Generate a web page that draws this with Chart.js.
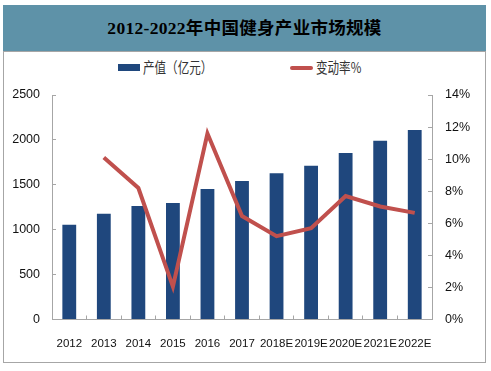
<!DOCTYPE html>
<html><head><meta charset="utf-8">
<script src="https://cdn.jsdelivr.net/npm/chart.js@4.4.0/dist/chart.umd.min.js"></script>
<style>
html,body{margin:0;padding:0;background:#fff;width:491px;height:371px;overflow:hidden;}
#frame{position:absolute;left:3px;top:5px;width:481px;height:357px;border:1px solid #A6A6A6;border-top:none;}
#title{position:absolute;left:3px;top:5px;width:483px;height:46px;background:#5E92A8;border-bottom:1px solid #A6A6A6;
 font-family:"Liberation Serif","Noto Sans CJK SC",serif;font-weight:bold;font-size:17.5px;letter-spacing:0.3px;color:#000;
 text-align:center;line-height:46px;}
.lg{position:absolute;font-family:"Noto Sans CJK SC",sans-serif;font-size:15px;color:#333;transform-origin:0 50%;transform:scaleX(0.77);white-space:nowrap;line-height:16px;}
#box1{position:absolute;left:118px;top:64px;width:22px;height:7px;background:#1F477D;}
#box2{position:absolute;left:290px;top:66px;width:23px;height:4px;background:#C0504D;border-radius:2px;}
#cw{position:absolute;left:0;top:80px;width:491px;height:291px;}
</style></head>
<body>
<div id="frame"></div>
<div id="title">2012-2022年中国健身产业市场规模</div>
<div id="box1"></div><div class="lg" style="left:143px;top:59px;">产值（亿元）</div>
<div id="box2"></div><div class="lg" style="left:316px;top:59px;">变动率%</div>
<div id="cw"><canvas id="c" width="491" height="291"></canvas></div>
<script>
const categories = ["2012","2013","2014","2015","2016","2017","2018E","2019E","2020E","2021E","2022E"];
const outputValues = [1055,1178,1263,1296,1452,1542,1630,1712,1853,1990,2110];
const changeRates = [null,10.1,8.2,2.05,11.6,6.45,5.2,5.7,7.7,7.05,6.65];
const leftTicks = [0,500,1000,1500,2000,2500];
const rightTicks = [0,2,4,6,8,10,12,14];

const axisColor = '#A6A6A6';
const fam = '"Liberation Sans Narrow","Liberation Sans",sans-serif';

new Chart(document.getElementById('c'), {
  type:'bar',
  data:{
    labels: categories,
    datasets:[
      {type:'line', label:'变动率%', data: changeRates, yAxisID:'y1', borderColor:'#C0504D', backgroundColor:'#C0504D',
       borderWidth:4, pointRadius:0, tension:0, spanGaps:false, order:0},
      {type:'bar', label:'产值（亿元）', data: outputValues, yAxisID:'y', backgroundColor:'#1F477D',
       barPercentage:0.4, categoryPercentage:1.0, order:1}
    ]
  },
  options:{
    responsive:false, animation:false,
    layout:{padding:{top:15,left:0,right:0,bottom:0}},
    plugins:{legend:{display:false}, title:{display:false}, tooltip:{enabled:false}},
    scales:{
      x:{
        offset:true,
        grid:{display:true, drawOnChartArea:false, drawTicks:true, tickLength:-4, color:axisColor, offset:true},
        border:{display:true, color:axisColor, width:1},
        ticks:{font:{family:fam,size:11.5}, color:'#111', padding:21, maxRotation:0, autoSkip:false},
        afterFit(s){ s.height = 51.5; s.paddingLeft = 0; s.paddingRight = 0; }
      },
      y:{
        position:'left', min:0, max:2500,
        afterBuildTicks(s){ s.ticks = leftTicks.map(v=>({value:v})); },
        grid:{display:true, drawOnChartArea:false, tickLength:-4, color:axisColor},
        border:{display:true, color:axisColor, width:1},
        ticks:{font:{family:fam,size:12.5}, color:'#111', padding:16, callback:v=>String(v)},
        afterFit(s){ s.width = 52; s.paddingTop = 0; s.paddingBottom = 0; }
      },
      y1:{
        position:'right', min:0, max:14,
        afterBuildTicks(s){ s.ticks = rightTicks.map(v=>({value:v})); },
        grid:{display:true, drawOnChartArea:false, tickLength:-4, color:axisColor},
        border:{display:true, color:axisColor, width:1},
        ticks:{font:{family:fam,size:12.5}, color:'#111', padding:17, callback:v=>v+'%'},
        afterFit(s){ s.width = 59; s.paddingTop = 0; s.paddingBottom = 0; }
      }
    }
  }
});
</script>
</body></html>
